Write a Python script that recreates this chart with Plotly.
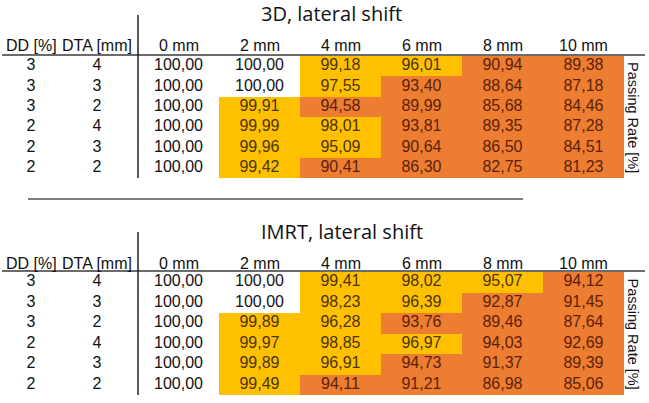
import plotly.graph_objects as go
from plotly.subplots import make_subplots

# ---------------- data ----------------
shifts = [0, 2, 4, 6, 8, 10]
shift_labels = ["0 mm", "2 mm", "4 mm", "6 mm", "8 mm", "10 mm"]
dd = [3, 3, 3, 2, 2, 2]
dta = [4, 3, 2, 4, 3, 2]

rate_3d = [
    [100.00, 100.00, 99.18, 96.01, 90.94, 89.38],
    [100.00, 100.00, 97.55, 93.40, 88.64, 87.18],
    [100.00, 99.91, 94.58, 89.99, 85.68, 84.46],
    [100.00, 99.99, 98.01, 93.81, 89.35, 87.28],
    [100.00, 99.96, 95.09, 90.64, 86.50, 84.51],
    [100.00, 99.42, 90.41, 86.30, 82.75, 81.23],
]
rate_imrt = [
    [100.00, 100.00, 99.41, 98.02, 95.07, 94.12],
    [100.00, 100.00, 98.23, 96.39, 92.87, 91.45],
    [100.00, 99.89, 96.28, 93.76, 89.46, 87.64],
    [100.00, 99.97, 98.85, 96.97, 94.03, 92.69],
    [100.00, 99.89, 96.91, 94.73, 91.37, 89.39],
    [100.00, 99.49, 94.11, 91.21, 86.98, 85.06],
]
titles = ["3D, lateral shift", "IMRT, lateral shift"]

# ---------------- layout helpers ----------------
W, H = 649, 403
COL_PX = 81.0          # one 2 mm column in pixels
X0_PX = 178.5          # centre of the 0 mm column

def px_x(p):
    return (p - X0_PX) / COL_PX * 2

FILL = ["#FFFFFF", "#FFC000", "#ED7D31"]
INK = ["#111111", "#4a3400", "#5c1f08"]
FONT = "Liberation Sans, Arial, sans-serif"
TITLE_FONT = "Open Sans, sans-serif"
FS = 16

def level(v):
    if v >= 100:
        return 0
    if v >= 95:
        return 1
    return 2

fig = make_subplots(rows=2, cols=1)

# cell areas in pixels (top, bottom)
tables = [(56, 178), (272, 395)]
title_px = [14, 231]
vline_top = [15, 232]
head_gap = [10, 9]

head_x = [px_x(31), px_x(97)] + shifts
head_txt = ["DD [%]", "DTA [mm]"] + shift_labels

for k, rates in enumerate([rate_3d, rate_imrt]):
    r = k + 1
    z = [[level(v) for v in row] for row in rates]
    fig.add_trace(go.Heatmap(
        x=shifts, y=list(range(len(dd))), z=z,
        colorscale=[[0, FILL[0]], [0.5, FILL[1]], [1, FILL[2]]],
        zmin=0, zmax=2, showscale=False, hoverinfo="skip"
    ), row=r, col=1)

    # numbers
    xs, ys, txt, cols = [], [], [], []
    for i, row in enumerate(rates):
        for j, v in enumerate(row):
            xs.append(shifts[j])
            ys.append(i)
            txt.append(f"{v:.2f}".replace(".", ","))
            cols.append(INK[level(v)])
    fig.add_trace(go.Scatter(
        x=xs, y=ys, mode="text", text=txt,
        textfont=dict(family=FONT, size=FS, color=cols),
        hoverinfo="skip", showlegend=False
    ), row=r, col=1)

    # DD / DTA columns
    fig.add_trace(go.Scatter(
        x=[px_x(31)] * len(dd) + [px_x(97)] * len(dta),
        y=list(range(len(dd))) * 2, mode="text",
        text=[str(v) for v in dd] + [str(v) for v in dta],
        textfont=dict(family=FONT, size=FS, color="#111111"),
        hoverinfo="skip", showlegend=False
    ), row=r, col=1)

    top, bot = tables[k]
    span = bot - top
    xname = "xaxis" if k == 0 else "xaxis2"
    yname = "yaxis" if k == 0 else "yaxis2"
    fig.update_layout({
        xname: dict(
            domain=[2 / W, 645 / W], range=[px_x(2), px_x(645)],
            side="top", showgrid=False, zeroline=False,
            showline=True, linecolor="#6b6b6b", linewidth=2,
            showticklabels=False, ticks="", fixedrange=True
        ),
        yname: dict(
            domain=[1 - bot / H, 1 - top / H], range=[5.5, -0.5],
            visible=False, fixedrange=True
        ),
    })

    yref = "y domain" if k == 0 else "y2 domain"
    xref = "x" if k == 0 else "x2"

    # column headers
    for hx, ht in zip(head_x, head_txt):
        fig.add_annotation(xref=xref, yref=yref, x=hx, y=1 + head_gap[k] / span,
                           xanchor="center", yanchor="middle", text=ht,
                           showarrow=False,
                           font=dict(family=FONT, size=FS, color="#111111"))

    # vertical divider
    fig.add_shape(type="line", xref=xref, yref=yref,
                  x0=-1, x1=-1, y0=0, y1=1 + (top - vline_top[k]) / span,
                  line=dict(color="#222222", width=1.5))
    # right label
    fig.add_annotation(xref="paper", yref=yref, x=633 / W, y=0.5,
                       xanchor="center", yanchor="middle",
                       text="Passing Rate [%]", textangle=90, showarrow=False,
                       font=dict(family=FONT, size=14.5, color="#111111"))
    # title
    fig.add_annotation(xref="paper", yref="paper", x=259 / W, y=1 - title_px[k] / H,
                       xanchor="left", yanchor="middle", text=titles[k],
                       showarrow=False,
                       font=dict(family=TITLE_FONT, size=20, color="#111111"))

# separator between the two tables
fig.add_shape(type="line", xref="paper", yref="paper",
              x0=28 / W, x1=523 / W, y0=1 - 199 / H, y1=1 - 199 / H,
              line=dict(color="#7f7f7f", width=2))

fig.update_layout(
    width=W, height=H, margin=dict(l=0, r=0, t=0, b=0),
    paper_bgcolor="white", plot_bgcolor="white", showlegend=False
)

# the page body has a default 8px margin; drop it so the figure sits at 0,0
fig.write_html("out.html", config={"displayModeBar": False},
               post_script="document.body.style.margin='0px';")
